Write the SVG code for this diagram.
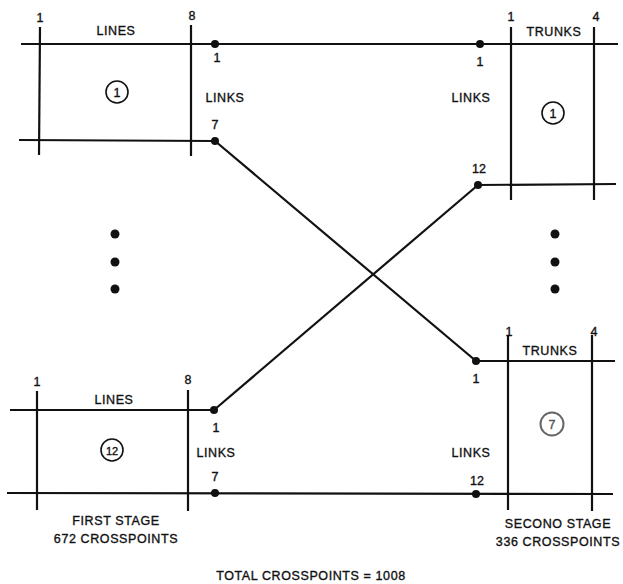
<svg xmlns="http://www.w3.org/2000/svg" width="623" height="584" viewBox="0 0 623 584">
<style>
text{font-family:"Liberation Sans",Arial,sans-serif;font-size:12.5px;fill:#111;stroke:#111;stroke-width:0.35;text-anchor:middle;letter-spacing:0.6px}
.ln{stroke:#111;stroke-width:2.2;fill:none}
.dot{fill:#111}
.num{font-size:12.5px;letter-spacing:0}
.circ{fill:none;stroke:#111;stroke-width:1.6}
</style>
<rect width="623" height="584" fill="#fff"/>
<g id="connectors">
<line class="ln" x1="21" y1="44" x2="618" y2="44"/>
<line class="ln" x1="215" y1="141" x2="476" y2="361"/>
<line class="ln" x1="214" y1="410" x2="478" y2="185"/>
<line class="ln" x1="7" y1="493" x2="613" y2="494"/>
</g>
<g id="stage1-1">
<line class="ln" x1="19" y1="140" x2="215" y2="141"/>
<line class="ln" x1="40" y1="27" x2="39" y2="155"/>
<line class="ln" x1="191" y1="25" x2="191" y2="156"/>
<text class="num" x="40" y="22">1</text>
<text class="num" x="192" y="20">8</text>
<text x="116" y="35">LINES</text>
<circle class="circ" cx="117" cy="92" r="11"/>
<text class="num" x="117" y="96.5">1</text>
<text x="225" y="102">LINKS</text>
<circle class="dot" cx="215" cy="44" r="4"/>
<text class="num" x="217" y="62">1</text>
<circle class="dot" cx="215" cy="141" r="4"/>
<text class="num" x="215" y="129">7</text>
</g>
<g id="stage1-12">
<line class="ln" x1="10" y1="410" x2="214" y2="410"/>
<line class="ln" x1="37" y1="391" x2="37" y2="510"/>
<line class="ln" x1="188" y1="390" x2="188" y2="511"/>
<text class="num" x="37" y="386">1</text>
<text class="num" x="188" y="384">8</text>
<text x="114" y="404">LINES</text>
<circle class="circ" cx="112" cy="450" r="11"/>
<text class="num" x="112" y="454.5" style="font-size:11px">12</text>
<text x="216" y="457">LINKS</text>
<circle class="dot" cx="214" cy="410" r="4"/>
<text class="num" x="216" y="432">1</text>
<circle class="dot" cx="215" cy="493" r="4"/>
<text class="num" x="215" y="481">7</text>
<text x="116" y="525">FIRST STAGE</text>
<text x="116" y="543">672 CROSSPOINTS</text>
</g>
<g id="stage2-1">
<line class="ln" x1="478" y1="185" x2="616" y2="184"/>
<line class="ln" x1="511" y1="27" x2="511" y2="200"/>
<line class="ln" x1="594" y1="27" x2="594" y2="200"/>
<text class="num" x="511" y="21">1</text>
<text class="num" x="596" y="21">4</text>
<text x="554" y="36">TRUNKS</text>
<circle class="circ" cx="553" cy="113" r="11"/>
<text class="num" x="553" y="117.5">1</text>
<text x="471" y="102">LINKS</text>
<circle class="dot" cx="480" cy="44" r="4"/>
<text class="num" x="480" y="66">1</text>
<circle class="dot" cx="478" cy="185" r="4"/>
<text class="num" x="479" y="173">12</text>
</g>
<g id="stage2-7">
<line class="ln" x1="476" y1="361" x2="615" y2="361"/>
<line class="ln" x1="508" y1="335" x2="508" y2="510"/>
<line class="ln" x1="592" y1="335" x2="592" y2="511"/>
<text class="num" x="509" y="336">1</text>
<text class="num" x="594" y="336">4</text>
<text x="550" y="355">TRUNKS</text>
<circle class="circ" cx="552" cy="424" r="11.5" style="stroke:#666;stroke-width:2"/>
<text class="num" x="552" y="428.5" style="fill:#555;stroke:#555">7</text>
<text x="471" y="457">LINKS</text>
<circle class="dot" cx="476" cy="361" r="4"/>
<text class="num" x="476" y="383">1</text>
<circle class="dot" cx="476" cy="494" r="4"/>
<text class="num" x="477" y="485">12</text>
<text x="558" y="528">SECONO STAGE</text>
<text x="558" y="546">336 CROSSPOINTS</text>
</g>
<g id="ellipsis">
<circle class="dot" cx="115" cy="234" r="4.5"/>
<circle class="dot" cx="115" cy="262" r="4.5"/>
<circle class="dot" cx="115" cy="289" r="4.5"/>
<circle class="dot" cx="555" cy="234" r="4.5"/>
<circle class="dot" cx="555" cy="262" r="4.5"/>
<circle class="dot" cx="555" cy="289" r="4.5"/>
</g>
<text x="311" y="580">TOTAL CROSSPOINTS = 1008</text>
</svg>
